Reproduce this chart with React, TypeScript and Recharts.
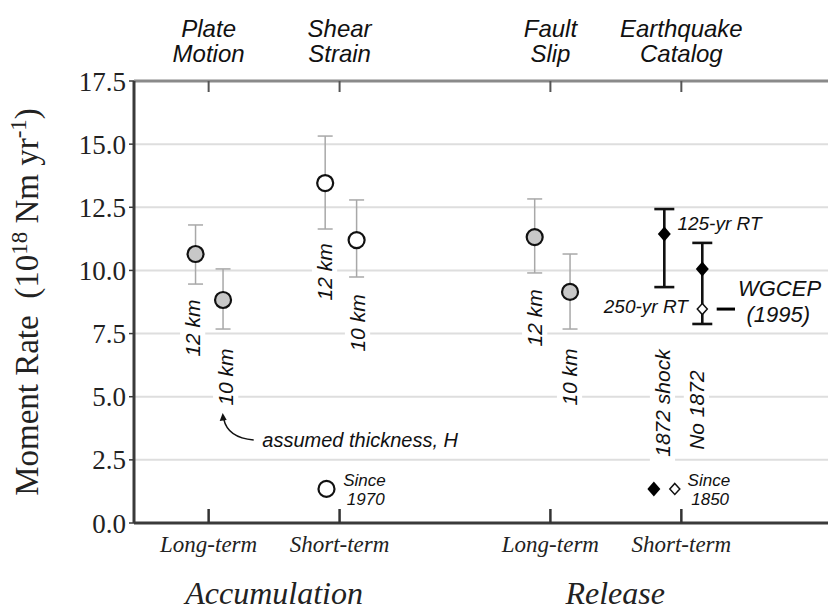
import { ScatterChart, Scatter, XAxis, YAxis, CartesianGrid, ErrorBar, ReferenceDot, ReferenceLine } from 'recharts';

const SANS = '"Liberation Sans", Arial, sans-serif';
const SERIF = '"Liberation Serif", "Times New Roman", serif';

// axis categories
const groupTicks = [1, 2, 3.61, 4.61];
const methodNames = [['Plate', 'Motion'], ['Shear', 'Strain'], ['Fault', 'Slip'], ['Earthquake', 'Catalog']];
const termNames = ['Long-term', 'Short-term', 'Long-term', 'Short-term'];
const phaseNames = ['Accumulation', 'Release'];
const phaseX = [1.5, 4.105];
const yTicks = [0, 2.5, 5, 7.5, 10, 12.5, 15, 17.5];

// plate motion + fault slip (gray circles)
const longX = [0.9, 1.11, 3.49, 3.76];
const longRate = [10.65, 8.83, 11.32, 9.15];
const longLow = [9.46, 7.68, 9.9, 7.68];
const longHigh = [11.8, 10.06, 12.83, 10.65];

// shear strain (open circles)
const strainX = [1.89, 2.13];
const strainRate = [13.46, 11.2];
const strainLow = [11.64, 9.74];
const strainHigh = [15.32, 12.79];
const since1970X = [1.9];
const since1970Rate = [1.35];

// earthquake catalog (diamonds)
const catalogX = [4.48, 4.77];
const catalogRate = [11.44, 10.06];
const catalogLow = [9.34, 7.88];
const catalogHigh = [12.43, 11.09];
const since1850BlackX = [4.4];
const since1850BlackRate = [1.35];
const openDiamondX = [4.77, 4.56]; // WGCEP (1995), since 1850
const openDiamondRate = [8.47, 1.35];

function rows(xs: number[], ys: number[], lows?: number[], highs?: number[]) {
  return xs.map((x, i) => ({
    x,
    y: ys[i],
    err: lows && highs ? [ys[i] - lows[i], highs[i] - ys[i]] : [0, 0],
  }));
}

const grayCircle = (p: any) => <circle cx={p.cx} cy={p.cy} r={8} fill="#c8c8c8" stroke="#111" strokeWidth={2.2} />;
const openCircle = (p: any) => <circle cx={p.cx} cy={p.cy} r={8} fill="#fff" stroke="#111" strokeWidth={2.2} />;
const blackDiamond = (p: any) => (
  <polygon
    points={`${p.cx},${p.cy - 7.5} ${p.cx + 6.5},${p.cy} ${p.cx},${p.cy + 7.5} ${p.cx - 6.5},${p.cy}`}
    fill="#000"
  />
);
const openDiamond = (p: any) => (
  <polygon
    points={`${p.cx},${p.cy - 5.5} ${p.cx + 5},${p.cy} ${p.cx},${p.cy + 5.5} ${p.cx - 5},${p.cy}`}
    fill="#fff"
    stroke="#111"
    strokeWidth={1.5}
  />
);

const BottomTick = (p: any) => (
  <g>
    <line x1={p.x} y1={p.y} x2={p.x} y2={p.y - 14} stroke="#333" strokeWidth={2.5} />
    <text x={p.x} y={p.y + 29} textAnchor="middle" fontFamily={SERIF} fontStyle="italic" fontSize={23} fill="#222">{termNames[p.index]}</text>
  </g>
);

function note(key: string, x: number, y: number, render: (cx: number, cy: number) => any) {
  return <ReferenceDot key={key} x={x} y={y} r={1} ifOverflow="visible" shape={(p: any) => render(p.cx, p.cy)} />;
}

function text(key: string, x: number, y: number, label: string, size: number, anchor = 'start') {
  return note(key, x, y, (cx, cy) => (
    <text x={cx} y={cy} textAnchor={anchor} dominantBaseline="central" fontFamily={SANS} fontStyle="italic" fontSize={size} fill="#111">
      {label}
    </text>
  ));
}

function vtext(key: string, x: number, y: number, label: string, size = 21) {
  return note(key, x, y, (cx, cy) => {
    const w = label.length * size * 0.55 + 8;
    return (
      <g transform={`rotate(-90 ${cx} ${cy})`}>
        <rect x={cx - w / 2} y={cy - size * 0.6} width={w} height={size * 1.2} fill="#fff" />
        <text x={cx} y={cy} textAnchor="middle" dominantBaseline="central" fontFamily={SANS} fontStyle="italic" fontSize={size} fill="#111">
          {label}
        </text>
      </g>
    );
  });
}

export default function App() {
  return (
    <div style={{ position: 'absolute', left: 0, top: 0, background: '#fff' }}>
      <ScatterChart width={828} height={611} margin={{ top: 81, right: 0, bottom: 0, left: 0 }}>
        <CartesianGrid vertical={false} stroke="#dedede" strokeWidth={2} />
        <XAxis
          type="number"
          dataKey="x"
          domain={[0.43, 5.73]}
          ticks={groupTicks}
          interval={0}
          height={88}
          axisLine={{ stroke: '#3a3a3a', strokeWidth: 3 }}
          tickLine={false}
          tickSize={0}
          tickMargin={0}
          tick={<BottomTick />}
        />
        <YAxis
          type="number"
          dataKey="y"
          domain={[0, 17.5]}
          ticks={yTicks}
          interval={0}
          width={134}
          axisLine={{ stroke: '#3a3a3a', strokeWidth: 3 }}
          tickLine={{ stroke: '#3a3a3a', strokeWidth: 1.5 }}
          tickSize={5}
          tickMargin={3}
          tickFormatter={(v: number) => v.toFixed(1)}
          tick={{ fontFamily: SERIF, fontSize: 27, fill: '#222' }}
        />

        <ReferenceLine y={17.5} stroke="#8a8a8a" strokeWidth={3} />
        {groupTicks.map((t, i) =>
          note('top' + i, t, 17.5, (cx, cy) => (
            <g>
              <line x1={cx} y1={cy} x2={cx} y2={cy + 11} stroke="#555" strokeWidth={2} />
              <text x={cx} y={cy - 44} textAnchor="middle" fontFamily={SANS} fontStyle="italic" fontSize={24} fill="#111">{methodNames[i][0]}</text>
              <text x={cx} y={cy - 19} textAnchor="middle" fontFamily={SANS} fontStyle="italic" fontSize={24} fill="#111">{methodNames[i][1]}</text>
            </g>
          ))
        )}

        {note('ytitle', 0.43, 8.75, (cx, cy) => {
          const tx = cx - 107;
          return (
            <text transform={`rotate(-90 ${tx} ${cy})`} x={tx} y={cy} textAnchor="middle" dominantBaseline="central" fontFamily={SERIF} fontSize={33} fill="#222">
              Moment Rate{'\u00a0\u00a0'}(10<tspan fontSize={23} dy={-8}>18</tspan>
              <tspan dy={8}> Nm yr</tspan>
              <tspan fontSize={23} dy={-9}>-1</tspan>
              <tspan dy={9}>)</tspan>
            </text>
          );
        })}
        {phaseNames.map((name, i) =>
          note('phase' + i, phaseX[i], 0, (cx, cy) => (
            <text x={cx} y={cy + 81} textAnchor="middle" fontFamily={SERIF} fontStyle="italic" fontSize={32} fill="#222">
              {name}
            </text>
          ))
        )}

        {vtext('pm12', 0.878, 7.72, '12 km')}
        {vtext('pm10', 1.13, 5.78, '10 km')}
        {vtext('ss12', 1.885, 9.94, '12 km')}
        {vtext('ss10', 2.137, 7.92, '10 km')}
        {vtext('fs12', 3.49, 8.12, '12 km')}
        {vtext('fs10', 3.756, 5.78, '10 km')}
        {vtext('c1872', 4.466, 4.75, '1872 shock')}
        {vtext('cno', 4.725, 4.47, 'No 1872')}

        {note('arrow', 1.115, 4.24, (cx, cy) => (
          <g>
            <path d={`M ${cx} ${cy + 3} Q ${cx + 4} ${cy + 22} ${cx + 30} ${cy + 24}`} fill="none" stroke="#111" strokeWidth={1.5} />
            <polygon points={`${cx - 1},${cy - 3} ${cx - 4},${cy + 5} ${cx + 3},${cy + 4}`} fill="#111" />
          </g>
        ))}
        {text('thick', 1.41, 3.29, 'assumed thickness, H', 20)}
        {text('rt125', 4.58, 11.84, '125-yr RT', 19)}
        {text('rt250', 4.66, 8.59, '250-yr RT', 19, 'end')}
        {text('wg1', 5.36, 9.3, 'WGCEP', 22, 'middle')}
        {text('wg2', 5.35, 8.24, '(1995)', 22, 'middle')}
        {text('s70a', 2.19, 1.7, 'Since', 17, 'middle')}
        {text('s70b', 2.2, 0.95, '1970', 17, 'middle')}
        {text('s50a', 4.82, 1.7, 'Since', 17, 'middle')}
        {text('s50b', 4.83, 0.95, '1850', 17, 'middle')}
        <ReferenceLine
          segment={[{ x: 4.88, y: 8.47 }, { x: 5.02, y: 8.47 }]}
          stroke="#000"
          strokeWidth={3}
          ifOverflow="visible"
        />

        <Scatter data={rows(longX, longRate, longLow, longHigh)} shape={grayCircle} isAnimationActive={false}>
          <ErrorBar dataKey="err" direction="y" width={7.5} stroke="#a8a8a8" strokeWidth={1.5} isAnimationActive={false} />
        </Scatter>
        <Scatter data={rows(strainX, strainRate, strainLow, strainHigh)} shape={openCircle} isAnimationActive={false}>
          <ErrorBar dataKey="err" direction="y" width={7.5} stroke="#a8a8a8" strokeWidth={1.5} isAnimationActive={false} />
        </Scatter>
        <Scatter data={rows(since1970X, since1970Rate)} shape={openCircle} isAnimationActive={false} />
        <Scatter data={rows(catalogX, catalogRate, catalogLow, catalogHigh)} shape={blackDiamond} isAnimationActive={false}>
          <ErrorBar dataKey="err" direction="y" width={10} stroke="#111" strokeWidth={2.6} isAnimationActive={false} />
        </Scatter>
        <Scatter data={rows(since1850BlackX, since1850BlackRate)} shape={blackDiamond} isAnimationActive={false} />
        <Scatter data={rows(openDiamondX, openDiamondRate)} shape={openDiamond} isAnimationActive={false} />
      </ScatterChart>
    </div>
  );
}
